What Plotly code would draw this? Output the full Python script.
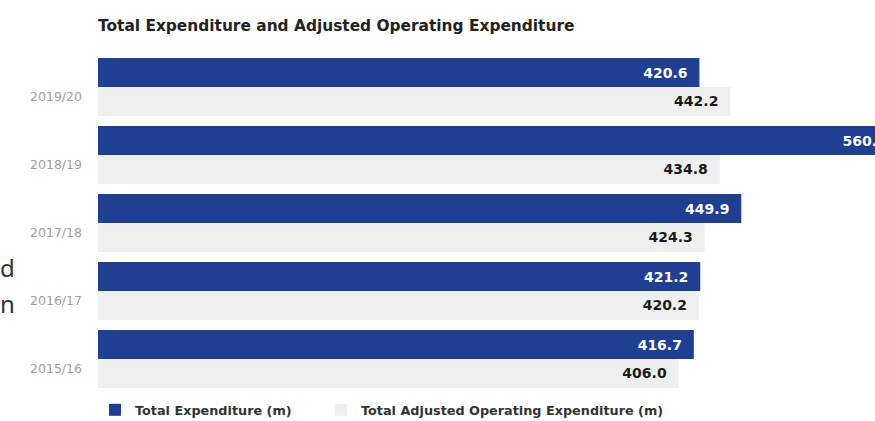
import plotly.graph_objects as go

categories = ["2015/16", "2016/17", "2017/18", "2018/19", "2019/20"]
total_expenditure = [416.7, 421.2, 449.9, 560.0, 420.6]
adjusted_operating = [406.0, 420.2, 424.3, 434.8, 442.2]
series_names = ["Total Expenditure (m)", "Total Adjusted Operating Expenditure (m)"]
title_text = "Total Expenditure and Adjusted Operating Expenditure"

BLUE = "#1f3f92"
GREY = "#efefef"
BOLD = "DejaVu Sans"
W, H = 875, 421

fig = go.Figure()
# Grouped horizontal bars: first trace sits at the bottom of each group,
# so the grey series goes first to put the blue bar on top.
fig.add_trace(go.Bar(
    y=categories, x=adjusted_operating, orientation="h",
    name="<b>" + series_names[1] + "</b>",
    marker=dict(color=GREY, line=dict(width=0)),
    texttemplate="<b>%{x:.1f}</b>\u00a0\u00a0", textposition="inside", insidetextanchor="end",
    textfont=dict(color="#1a1a1a", size=14, family=BOLD),
    legendrank=2,
))
fig.add_trace(go.Bar(
    y=categories, x=total_expenditure, orientation="h",
    name="<b>" + series_names[0] + "</b>" + "\u00a0" * 6,
    marker=dict(color=BLUE, line=dict(width=0)),
    texttemplate="<b>%{x:.1f}</b>\u00a0\u00a0", textposition="inside", insidetextanchor="end",
    textfont=dict(color="white", size=14, family=BOLD),
    legendrank=1,
))

fig.update_layout(
    width=W, height=H,
    margin=dict(l=98, r=0, t=53, b=28, autoexpand=False),
    paper_bgcolor="white", plot_bgcolor="white",
    barmode="group", bargap=0.15, bargroupgap=0.0,
    title=dict(text="<b>" + title_text + "</b>", x=98 / W, xanchor="left",
               y=1 - 26 / H, yanchor="middle",
               font=dict(family=BOLD, size=15.4, color="#222222")),
    xaxis=dict(range=[0, 543.4], showgrid=False, zeroline=False, showline=False,
               showticklabels=False, ticks="", automargin=False),
    yaxis=dict(showgrid=False, zeroline=False, showline=False, ticks="",
               automargin=False,
               ticklabelstandoff=15, ticklabelshift=10,
               tickfont=dict(family="DejaVu Sans", size=12.5, color="#a0a0a0")),
    legend=dict(orientation="h", xref="container", yref="container",
                x=95 / W, xanchor="left", y=1 - 410 / H, yanchor="middle",
                traceorder="normal",
                font=dict(family=BOLD, size=12.8, color="#333333"),
                itemclick=False),
    showlegend=True,
    annotations=[
        dict(text="d", xref="paper", yref="paper", x=-100 / 777, y=0.369,
             xanchor="left", yanchor="middle", showarrow=False,
             font=dict(family="Noto Sans", size=24, color="#333333")),
        dict(text="n", xref="paper", yref="paper", x=-100 / 777, y=0.262,
             xanchor="left", yanchor="middle", showarrow=False,
             font=dict(family="Noto Sans", size=24, color="#333333")),
    ],
)

fig.write_html(
    "out.html",
    config={"displayModeBar": False},
    post_script="document.body.style.margin='0';document.body.style.overflow='hidden';",
)
